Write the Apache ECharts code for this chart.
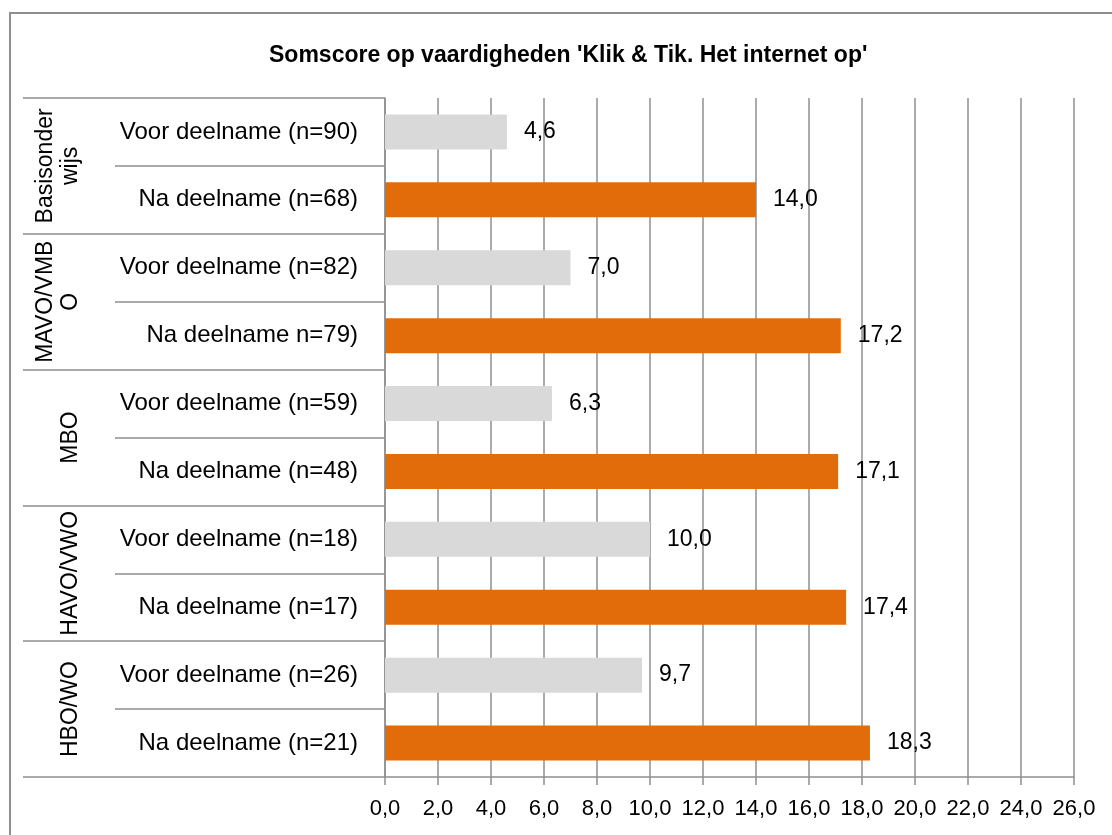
<!DOCTYPE html>
<html>
<head>
<meta charset="utf-8">
<script src="https://cdn.jsdelivr.net/npm/echarts@6/dist/echarts.min.js"></script>
<style>
  html, body { margin: 0; padding: 0; background: #fff; }
  #main { width: 1112px; height: 835px; }
</style>
</head>
<body>
<div id="main"></div>
<script>
// groepen (schooltype) en de staven per groep
var groepen = ['Basisonder\nwijs', 'MAVO/VMB\nO', 'MBO', 'HAVO/VWO', 'HBO/WO'];
var categorieen = [
  'Voor deelname (n=90)', 'Na deelname (n=68)',
  'Voor deelname (n=82)', 'Na deelname n=79)',
  'Voor deelname (n=59)', 'Na deelname (n=48)',
  'Voor deelname (n=18)', 'Na deelname (n=17)',
  'Voor deelname (n=26)', 'Na deelname (n=21)'
];
var scores = [4.6, 14.0, 7.0, 17.2, 6.3, 17.1, 10.0, 17.4, 9.7, 18.3];

var grijs = '#d9d9d9';
var oranje = '#e36c0a';
var lijn = '#8f8f8f';
var font = 'Liberation Sans, Arial, sans-serif';

function komma(v) {
  return Number(v).toFixed(1).replace('.', ',');
}

var myChart = echarts.init(document.getElementById('main'));

var option = {
  animation: false,
  backgroundColor: '#fff',
  textStyle: { fontFamily: font },
  title: {
    text: "Somscore op vaardigheden 'Klik & Tik. Het internet op'",
    left: 264,
    top: 39,
    textStyle: { fontFamily: font, fontSize: 23, fontWeight: 'bold', color: '#000' }
  },
  graphic: [{
    type: 'rect',
    shape: { x: 10, y: 13, width: 1110, height: 840 },
    style: { fill: 'none', stroke: lijn, lineWidth: 2 },
    silent: true
  }],
  grid: { left: 385, right: 38, top: 98, bottom: 58, containLabel: false },
  xAxis: {
    type: 'value',
    min: 0,
    max: 26,
    interval: 2,
    axisLine: { show: true, lineStyle: { color: lijn, width: 1.5 } },
    axisTick: { show: true, length: 8, lineStyle: { color: lijn, width: 1.5 } },
    splitLine: { show: true, lineStyle: { color: lijn, width: 1.5 } },
    axisLabel: {
      margin: 21,
      color: '#000',
      fontSize: 22,
      fontFamily: font,
      formatter: komma
    }
  },
  yAxis: [{
    type: 'category',
    data: categorieen,
    inverse: true,
    axisLine: { show: true, lineStyle: { color: lijn, width: 1.5 } },
    axisTick: { show: true, length: 270, lineStyle: { color: lijn, width: 1.5 } },
    axisLabel: { interval: 0, margin: 27, color: '#000', fontSize: 24, fontFamily: font }
  }, {
    type: 'category',
    data: groepen,
    inverse: true,
    position: 'left',
    offset: 0,
    axisLine: { show: false },
    axisTick: { show: true, length: 362, lineStyle: { color: lijn, width: 1.5 } },
    axisLabel: {
      interval: 0,
      hideOverlap: false,
      rotate: 90,
      margin: 302,
      color: '#000',
      fontSize: 23,
      lineHeight: 25,
      fontFamily: font
    }
  }],
  series: [{
    type: 'bar',
    yAxisIndex: 0,
    barWidth: 35,
    data: scores.map(function (v, i) {
      return { value: v, itemStyle: { color: i % 2 === 0 ? grijs : oranje } };
    }),
    label: {
      show: true,
      position: 'right',
      distance: 17,
      color: '#000',
      fontSize: 23,
      fontFamily: font,
      formatter: function (p) { return komma(p.value); }
    }
  }]
};

myChart.setOption(option);
</script>
</body>
</html>
